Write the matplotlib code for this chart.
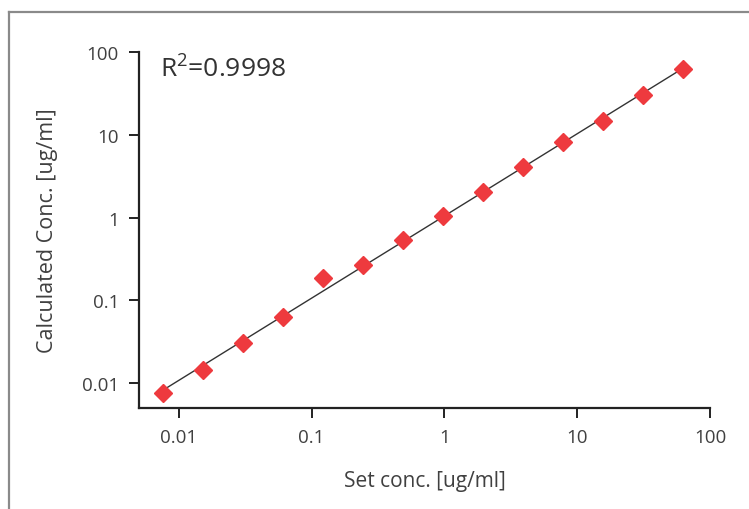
import numpy as np
import matplotlib
matplotlib.use("Agg")
import matplotlib.pyplot as plt
from matplotlib.lines import Line2D

set_conc = [0.0076, 0.0153, 0.0305, 0.061, 0.122, 0.244, 0.488, 0.977, 1.95, 3.91, 7.81, 15.6, 31.25, 62.5]
calc_conc = [0.0076, 0.0144, 0.031, 0.063, 0.184, 0.264, 0.53, 1.06, 2.05, 4.1, 8.2, 14.7, 30.4, 62.0]
x_ticks = [0.01, 0.1, 1, 10, 100]
x_ticklabels = ["0.01", "0.1", "1", "10", "100"]
y_ticks = [0.01, 0.1, 1, 10, 100]
y_ticklabels = ["0.01", "0.1", "1", "10", "100"]
r2_text = "R$^2$=0.9998"

plt.rcParams['font.family'] = ['Open Sans', 'DejaVu Sans']
plt.rcParams['mathtext.fontset'] = 'custom'
plt.rcParams['mathtext.rm'] = 'Open Sans'

fig = plt.figure(figsize=(7.49, 5.10), dpi=100)
ax = fig.add_axes([0.1856, 0.198, 0.948 - 0.1856, 0.896 - 0.198])

x = np.array(set_conc)
y = np.array(calc_conc)
slope, intercept = np.polyfit(np.log10(x), np.log10(y), 1)
xl = np.array([x.min(), x.max()])
ax.plot(xl, 10 ** (slope * np.log10(xl) + intercept), color="#333333", lw=1.0, zorder=2)
ax.plot(x, y, linestyle="none", marker="D", ms=9.5, color="#EE3A3E", mec="#EE3A3E", zorder=3)

ax.set_xscale("log")
ax.set_yscale("log")
ax.set_xlim(10 ** -2.3, 100)
ax.set_ylim(10 ** -2.3, 100)
ax.set_xticks(x_ticks)
ax.set_xticklabels(x_ticklabels)
ax.set_yticks(y_ticks)
ax.set_yticklabels(y_ticklabels)
ax.minorticks_off()

for s in ["top", "right"]:
    ax.spines[s].set_visible(False)
for s in ["left", "bottom"]:
    ax.spines[s].set_linewidth(1.6)
    ax.spines[s].set_color("#222222")
ax.tick_params(axis="both", direction="out", length=7.5, width=1.4, color="#222222",
               labelsize=13.5, labelcolor="#404040", pad=7)

ax.set_xlabel("Set conc. [ug/ml]", fontsize=15, color="#404040", labelpad=17)
ax.set_ylabel("Calculated Conc. [ug/ml]", fontsize=15.5, color="#404040", labelpad=17)

ax.text(0.037, 0.955, r2_text, transform=ax.transAxes, fontsize=19, color="#333333",
        ha="left", va="center")

# outer frame lines (top and left)
W, H = 749, 510
fig.add_artist(Line2D([9 / W, 1.0], [1 - 13 / H, 1 - 13 / H], transform=fig.transFigure,
                      color="#8a8a8a", lw=1.6))
fig.add_artist(Line2D([9 / W, 9 / W], [0.0, 1 - 13 / H], transform=fig.transFigure,
                      color="#8a8a8a", lw=1.6))

fig.savefig("out.png", dpi=100)
